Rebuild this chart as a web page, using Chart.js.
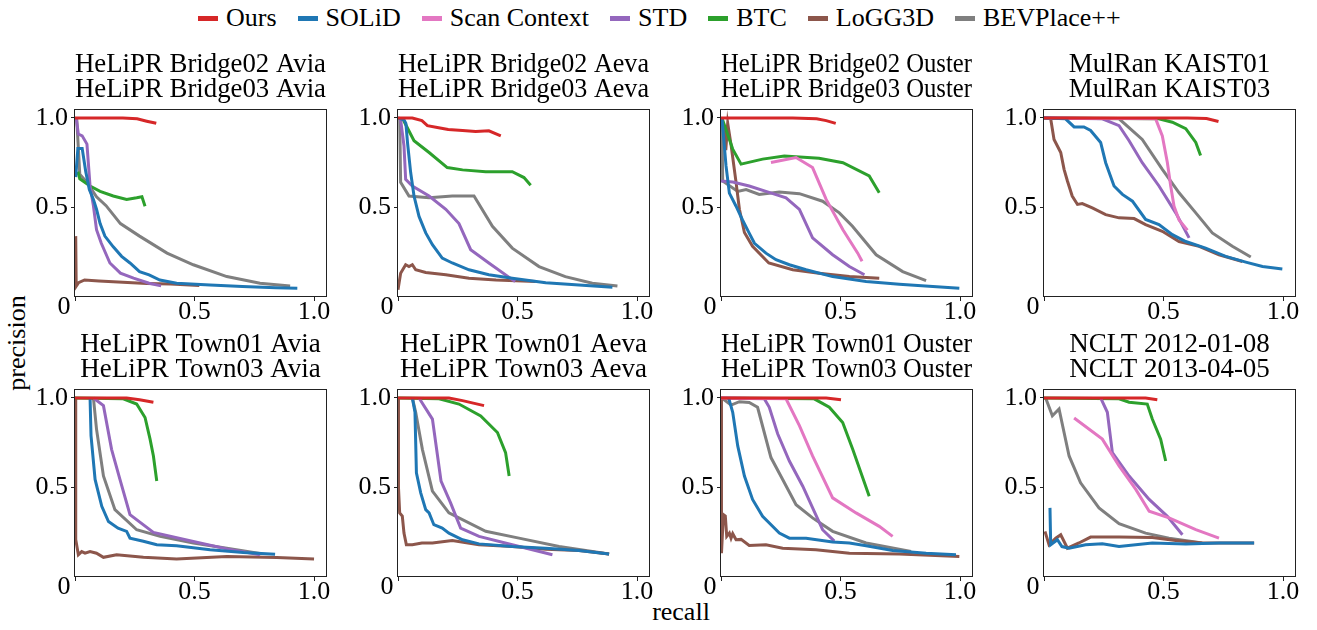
<!DOCTYPE html>
<html>
<head>
<meta charset="utf-8">
<script src="https://cdn.jsdelivr.net/npm/chart.js@4.4.0/dist/chart.umd.min.js"></script>
<style>
  body { margin: 0; background: #fff; }
  #fig { position: relative; width: 1317px; height: 630px; overflow: hidden; font-family: "Liberation Serif", serif; }
  #fig canvas { position: absolute; }
  #legend { position: absolute; left: 198px; top: 3px; display: flex; align-items: center; font-size: 26px; line-height: 30px; }
  #legend .item { display: flex; align-items: center; margin-right: 21px; }
  #legend .mark { width: 20px; height: 5px; margin-right: 8px; }
  .axlabel { position: absolute; font-size: 26px; line-height: 30px; white-space: nowrap; }
</style>
</head>
<body>
<div id="fig">
  <div id="legend"></div>
  <div class="axlabel" id="ylab" style="left:-38px; top:328px; width:110px; text-align:center; transform:rotate(-90deg);">precision</div>
  <div class="axlabel" id="xlab" style="left:631px; top:597px; width:100px; text-align:center;">recall</div>
</div>
<script>
// panel titles (two lines each)
const titles = [
  ['HeLiPR Bridge02 Avia', 'HeLiPR Bridge03 Avia'],
  ['HeLiPR Bridge02 Aeva', 'HeLiPR Bridge03 Aeva'],
  ['HeLiPR Bridge02 Ouster', 'HeLiPR Bridge03 Ouster'],
  ['MulRan KAIST01', 'MulRan KAIST03'],
  ['HeLiPR Town01 Avia', 'HeLiPR Town03 Avia'],
  ['HeLiPR Town01 Aeva', 'HeLiPR Town03 Aeva'],
  ['HeLiPR Town01 Ouster', 'HeLiPR Town03 Ouster'],
  ['NCLT 2012-01-08', 'NCLT 2013-04-05']
];

const methods = ['Ours', 'SOLiD', 'Scan Context', 'STD', 'BTC', 'LoGG3D', 'BEVPlace++'];
const colors  = ['#d62728', '#1f77b4', '#e377c2', '#9467bd', '#2ca02c', '#8c564b', '#7f7f7f'];

const xTicks = [0, 0.5, 1.0];
const yTicks = [0.5, 1.0];

// [recall, precision] per panel, null = not shown
const ours = [
  [[0,1],[0.2,1],[0.26,0.995],[0.3,0.982],[0.34,0.97]],
  [[0,1],[0.06,1],[0.1,0.985],[0.123,0.957],[0.17,0.945],[0.21,0.935],[0.27,0.93],[0.325,0.925],[0.38,0.928],[0.43,0.9]],
  [[0,1],[0.3,1],[0.4,0.995],[0.44,0.985],[0.48,0.97]],
  [[0,1],[0.6,1],[0.68,0.997],[0.73,0.98]],
  [[0,1],[0.216,1],[0.27,0.99],[0.328,0.976]],
  [[0,1],[0.213,1],[0.27,0.985],[0.36,0.957]],
  [[0,1],[0.44,1],[0.502,0.99]],
  [[0,1],[0.425,1],[0.474,0.99]]
];

const solid = [
  [[0.003,0.67],[0.012,0.83],[0.03,0.83],[0.045,0.7],[0.06,0.6],[0.077,0.545],[0.09,0.49],[0.105,0.41],[0.125,0.34],[0.16,0.28],[0.195,0.227],[0.23,0.19],[0.27,0.142],[0.31,0.124],[0.355,0.095],[0.425,0.077],[0.565,0.067],[0.7,0.058],[0.84,0.052],[0.93,0.049]],
  [[0,1],[0.025,0.99],[0.033,0.97],[0.04,0.86],[0.053,0.695],[0.067,0.564],[0.088,0.45],[0.116,0.358],[0.144,0.292],[0.185,0.217],[0.227,0.19],[0.297,0.152],[0.38,0.124],[0.478,0.105],[0.618,0.08],[0.757,0.067],[0.897,0.054]],
  [[0.004,1],[0.021,0.732],[0.035,0.58],[0.063,0.507],[0.09,0.43],[0.118,0.357],[0.14,0.3],[0.188,0.245],[0.23,0.208],[0.286,0.18],[0.356,0.152],[0.467,0.114],[0.607,0.086],[0.746,0.071],[0.886,0.058],[0.997,0.049]],
  [[0,1],[0.09,0.995],[0.126,0.95],[0.167,0.95],[0.195,0.93],[0.237,0.863],[0.258,0.75],[0.293,0.62],[0.328,0.573],[0.37,0.535],[0.425,0.433],[0.481,0.404],[0.537,0.348],[0.593,0.31],[0.676,0.273],[0.76,0.227],[0.844,0.195],[0.914,0.17],[0.997,0.157]],
  [[0.063,1],[0.067,0.79],[0.084,0.545],[0.112,0.395],[0.14,0.31],[0.18,0.273],[0.216,0.255],[0.23,0.217],[0.286,0.2],[0.342,0.18],[0.425,0.174],[0.565,0.152],[0.704,0.137],[0.837,0.127]],
  [[0.06,1],[0.071,0.92],[0.077,0.582],[0.095,0.47],[0.116,0.376],[0.13,0.358],[0.15,0.292],[0.185,0.273],[0.213,0.245],[0.27,0.208],[0.339,0.185],[0.478,0.17],[0.618,0.161],[0.757,0.148],[0.883,0.129]],
  [[0.032,1],[0.049,0.92],[0.07,0.732],[0.098,0.564],[0.132,0.433],[0.174,0.339],[0.244,0.245],[0.286,0.217],[0.356,0.217],[0.467,0.195],[0.537,0.19],[0.607,0.174],[0.718,0.148],[0.858,0.133],[0.983,0.124]],
  [[0.025,0.386],[0.028,0.18],[0.056,0.208],[0.075,0.17],[0.105,0.161],[0.174,0.18],[0.244,0.185],[0.314,0.17],[0.453,0.19],[0.593,0.184],[0.732,0.19],[0.879,0.19]]
];

const scanContext = [
  null,
  null,
  [[0.209,0.751],[0.314,0.779],[0.383,0.723],[0.44,0.545],[0.51,0.376],[0.572,0.245],[0.59,0.2]],
  [[0,1],[0.467,0.995],[0.495,0.9],[0.516,0.751],[0.53,0.62],[0.544,0.507],[0.565,0.43],[0.6,0.373]],
  null,
  null,
  [[0,1],[0.272,0.995],[0.328,0.845],[0.383,0.676],[0.467,0.442],[0.565,0.358],[0.662,0.283],[0.718,0.227]],
  [[0.126,0.888],[0.244,0.77],[0.314,0.62],[0.384,0.489],[0.44,0.367],[0.523,0.33],[0.635,0.264],[0.732,0.217]]
];

const std = [
  [[0.005,1],[0.014,0.91],[0.03,0.9],[0.05,0.854],[0.063,0.62],[0.077,0.51],[0.09,0.376],[0.11,0.3],[0.146,0.19],[0.19,0.133],[0.245,0.105],[0.31,0.077],[0.36,0.062]],
  [[0.01,1],[0.025,0.845],[0.032,0.657],[0.06,0.62],[0.13,0.564],[0.2,0.49],[0.255,0.41],[0.304,0.264],[0.38,0.19],[0.49,0.086]],
  [[0,0.648],[0.049,0.642],[0.118,0.62],[0.188,0.59],[0.272,0.554],[0.328,0.489],[0.383,0.33],[0.467,0.236],[0.537,0.17],[0.6,0.124]],
  [[0,1],[0.244,0.995],[0.314,0.957],[0.356,0.873],[0.411,0.75],[0.481,0.62],[0.551,0.47],[0.607,0.33]],
  [[0.077,1],[0.119,0.957],[0.153,0.713],[0.188,0.545],[0.23,0.348],[0.328,0.249],[0.495,0.198],[0.635,0.157],[0.774,0.124]],
  [[0.088,1],[0.144,0.882],[0.18,0.536],[0.22,0.414],[0.262,0.273],[0.339,0.227],[0.478,0.18],[0.646,0.124]],
  [[0,1],[0.181,0.995],[0.202,0.948],[0.237,0.8],[0.286,0.648],[0.342,0.507],[0.39,0.367],[0.425,0.264],[0.474,0.2]],
  [[0.237,1],[0.265,0.92],[0.286,0.695],[0.356,0.564],[0.44,0.433],[0.516,0.339],[0.579,0.236]]
];

const btc = [
  [[0.012,0.7],[0.02,0.66],[0.063,0.62],[0.105,0.59],[0.16,0.564],[0.216,0.545],[0.258,0.554],[0.28,0.56],[0.293,0.507]],
  [[0.018,1],[0.067,0.873],[0.13,0.807],[0.206,0.723],[0.27,0.71],[0.367,0.7],[0.478,0.7],[0.527,0.667],[0.555,0.624]],
  [[0.004,1],[0.049,0.826],[0.084,0.742],[0.174,0.77],[0.265,0.788],[0.41,0.775],[0.51,0.75],[0.62,0.676],[0.662,0.582]],
  [[0,1],[0.48,0.995],[0.537,0.976],[0.593,0.94],[0.635,0.863],[0.655,0.79]],
  [[0,1],[0.202,0.995],[0.258,0.966],[0.293,0.891],[0.314,0.77],[0.328,0.676],[0.342,0.536]],
  [[0,1],[0.172,0.995],[0.255,0.966],[0.346,0.9],[0.416,0.807],[0.45,0.695],[0.465,0.564]],
  [[0,1],[0.39,0.995],[0.453,0.948],[0.509,0.863],[0.551,0.713],[0.62,0.451]],
  [[0,1],[0.314,0.995],[0.356,0.976],[0.432,0.966],[0.453,0.882],[0.488,0.77],[0.509,0.648]]
];

const logg3d = [
  [[0.003,0.34],[0.005,0.06],[0.015,0.08],[0.04,0.095],[0.1,0.09],[0.2,0.082],[0.3,0.076],[0.4,0.072],[0.52,0.064]],
  [[0,0.04],[0.011,0.133],[0.032,0.18],[0.046,0.17],[0.06,0.18],[0.074,0.152],[0.116,0.137],[0.2,0.124],[0.297,0.105],[0.41,0.095],[0.576,0.086]],
  [[0.012,0.96],[0.02,0.82],[0.028,0.97],[0.042,0.85],[0.063,0.64],[0.077,0.49],[0.098,0.36],[0.132,0.283],[0.2,0.19],[0.3,0.152],[0.41,0.133],[0.537,0.114],[0.662,0.105]],
  [[0,1],[0.028,0.995],[0.042,0.88],[0.07,0.807],[0.084,0.713],[0.098,0.648],[0.118,0.564],[0.14,0.517],[0.16,0.522],[0.202,0.498],[0.258,0.46],[0.314,0.442],[0.377,0.438],[0.425,0.404],[0.495,0.367],[0.565,0.31],[0.649,0.283],[0.732,0.236],[0.83,0.198]],
  [[0,1],[0.003,0.21],[0.014,0.124],[0.028,0.142],[0.042,0.133],[0.063,0.142],[0.09,0.133],[0.119,0.11],[0.174,0.124],[0.286,0.11],[0.425,0.101],[0.635,0.114],[0.844,0.109],[1.0,0.101]],
  [[0,1],[0.002,0.5],[0.007,0.358],[0.018,0.34],[0.025,0.245],[0.035,0.18],[0.06,0.18],[0.1,0.19],[0.144,0.19],[0.227,0.204],[0.339,0.18],[0.478,0.17],[0.618,0.155],[0.757,0.148],[0.883,0.129]],
  [[0,1],[0.002,0.133],[0.01,0.348],[0.018,0.34],[0.024,0.227],[0.035,0.245],[0.042,0.217],[0.049,0.242],[0.063,0.208],[0.084,0.21],[0.118,0.176],[0.188,0.18],[0.258,0.161],[0.397,0.152],[0.537,0.133],[0.746,0.129],[0.997,0.114]],
  [[0.004,0.255],[0.021,0.18],[0.049,0.217],[0.07,0.236],[0.098,0.161],[0.146,0.19],[0.195,0.223],[0.314,0.223],[0.453,0.221],[0.551,0.204],[0.662,0.19],[0.879,0.19]]
];

const bevplace = [
  [[0.007,1],[0.02,0.685],[0.05,0.64],[0.09,0.56],[0.13,0.51],[0.19,0.41],[0.27,0.34],[0.385,0.245],[0.495,0.18],[0.635,0.114],[0.774,0.077],[0.9,0.062]],
  [[0.007,1],[0.011,0.64],[0.046,0.564],[0.13,0.554],[0.227,0.564],[0.318,0.564],[0.395,0.395],[0.478,0.273],[0.59,0.17],[0.7,0.114],[0.813,0.077],[0.918,0.062]],
  [[0.004,1],[0.007,0.648],[0.07,0.59],[0.105,0.6],[0.16,0.573],[0.244,0.586],[0.328,0.577],[0.425,0.535],[0.495,0.47],[0.55,0.395],[0.649,0.236],[0.76,0.142],[0.858,0.092]],
  [[0,1],[0.314,0.995],[0.411,0.88],[0.495,0.713],[0.565,0.582],[0.635,0.47],[0.704,0.358],[0.788,0.283],[0.865,0.223]],
  [[0.077,1],[0.09,0.826],[0.119,0.564],[0.167,0.376],[0.258,0.264],[0.356,0.227],[0.495,0.19],[0.635,0.161],[0.78,0.13]],
  [[0.06,1],[0.074,0.92],[0.102,0.713],[0.144,0.48],[0.213,0.358],[0.367,0.255],[0.506,0.217],[0.674,0.17],[0.883,0.129]],
  [[0.004,1],[0.042,0.96],[0.077,0.979],[0.118,0.975],[0.153,0.948],[0.209,0.667],[0.258,0.545],[0.314,0.404],[0.383,0.33],[0.467,0.255],[0.607,0.19],[0.795,0.142]],
  [[0.007,1],[0.035,0.9],[0.063,0.938],[0.105,0.676],[0.153,0.526],[0.23,0.386],[0.314,0.298],[0.425,0.245],[0.523,0.217],[0.662,0.19]]
];

const series = [ours, solid, scanContext, std, btc, logg3d, bevplace];

// layout of the 2x4 grid (plot area in page pixels)
const panelLeft = [75, 398, 721, 1044];
const panelTop  = [109, 389];
const plotW = 251, plotH = 188;
const padL = 70, padT = 70, padR = 20, padB = 40;
const FONT = '"Liberation Serif", "Times New Roman", serif';
const FS = 26;        // ticks
const TFS = 27;       // titles

const fig = document.getElementById('fig');

// legend
const legend = document.getElementById('legend');
methods.forEach((m, i) => {
  const item = document.createElement('div');
  item.className = 'item';
  item.innerHTML = '<span class="mark" style="background:' + colors[i] + '"></span><span>' + m + '</span>';
  legend.appendChild(item);
});

// frame around plot + the shifted "0" x label
const framePlugin = {
  id: 'frame',
  afterDraw(chart) {
    const a = chart.chartArea;
    const ctx = chart.ctx;
    ctx.save();
    ctx.strokeStyle = '#222';
    ctx.lineWidth = 1;
    ctx.strokeRect(Math.round(a.left) - 0.5, Math.round(a.top) + 0.5, Math.round(a.width) + 1, Math.round(a.height) - 1);
    ctx.fillStyle = '#000';
    ctx.font = FS + 'px ' + FONT;
    ctx.textAlign = 'center';
    ctx.textBaseline = 'top';
    ctx.fillText('0', a.left - 11, a.bottom - 3);
    ctx.restore();
  }
};

const titleLH = 25 / TFS, titlePadB = 6.5;
const titleH = 2 * TFS * titleLH + titlePadB;

titles.forEach((t, p) => {
  const col = p % 4, row = Math.floor(p / 4);
  const cv = document.createElement('canvas');
  cv.width = padL + plotW + padR;
  cv.height = padT + plotH + padB;
  cv.style.left = (panelLeft[col] - padL) + 'px';
  cv.style.top = (panelTop[row] - padT) + 'px';
  fig.appendChild(cv);

  const datasets = [];
  series.forEach((s, i) => {
    if (!s[p]) return;
    datasets.push({
      label: methods[i],
      data: s[p].map(d => ({ x: d[0], y: d[1] })),
      borderColor: colors[i],
      backgroundColor: colors[i],
      borderWidth: 3,
      pointRadius: 0,
      tension: 0,
      fill: false
    });
  });

  new Chart(cv.getContext('2d'), {
    type: 'line',
    data: { datasets },
    options: {
      responsive: false,
      animation: false,
      devicePixelRatio: 1,
      layout: { padding: { top: padT - titleH, right: padR, bottom: 0, left: 0 } },
      plugins: {
        legend: { display: false },
        tooltip: { enabled: false },
        title: {
          display: true,
          text: t,
          color: '#000',
          fullSize: false,
          font: { family: FONT, size: TFS, weight: 'normal', lineHeight: titleLH },
          padding: { top: 0, bottom: titlePadB }
        }
      },
      scales: {
        x: {
          type: 'linear',
          min: 0, max: 1.05,
          afterBuildTicks: s => { s.ticks = xTicks.map(v => ({ value: v })); },
          afterFit: s => { s.height = padB; },
          border: { display: false },
          grid: { drawOnChartArea: false, drawTicks: true, tickLength: 4, color: '#222' },
          ticks: {
            color: '#000', padding: -4, maxRotation: 0,
            font: { family: FONT, size: FS },
            callback: v => v === 0 ? '' : v.toFixed(1)
          }
        },
        y: {
          type: 'linear',
          min: 0, max: 1.05,
          afterBuildTicks: s => { s.ticks = yTicks.map(v => ({ value: v })); },
          afterFit: s => { s.width = padL; },
          border: { display: false },
          grid: { drawOnChartArea: false, drawTicks: true, tickLength: 4, color: '#222' },
          ticks: {
            color: '#000', padding: 3,
            font: { family: FONT, size: FS },
            callback: v => v.toFixed(1)
          }
        }
      }
    },
    plugins: [framePlugin]
  });
});
</script>
</body>
</html>
